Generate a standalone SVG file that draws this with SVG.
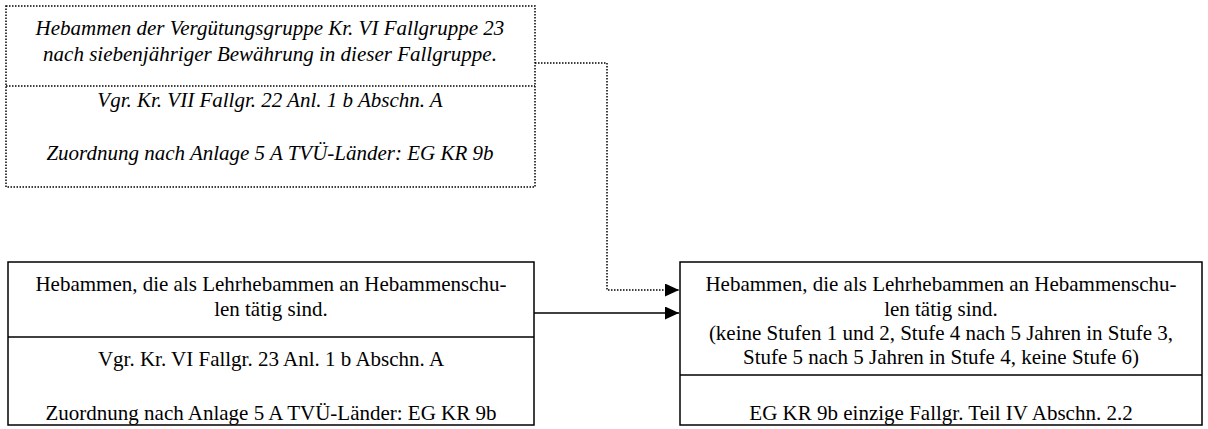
<svg xmlns="http://www.w3.org/2000/svg" width="1208" height="429" viewBox="0 0 1208 429">
<style>
text{font-family:'Liberation Serif','Times New Roman',serif;font-size:21px;fill:#000;text-anchor:middle}
.i{font-style:italic}
.solid{fill:#fff;stroke:#000;stroke-width:1.5}
.dot{fill:#fff;stroke:#000;stroke-width:1.5;stroke-dasharray:1.5 1.5}
.dl{fill:none;stroke:#000;stroke-width:1.5;stroke-dasharray:1.5 1.5}
.sl{fill:none;stroke:#000;stroke-width:1.5}
</style>
<defs>
<marker id="ah" viewBox="0 0 14 13" refX="14" refY="6.5" markerWidth="14" markerHeight="13" markerUnits="userSpaceOnUse" orient="auto">
<path d="M0,0 L14,6.5 L0,13 z" fill="#000"/>
</marker>
<clipPath id="cl"><rect x="8" y="262" width="526" height="163"/></clipPath>
<clipPath id="cr"><rect x="680" y="262" width="522" height="163"/></clipPath>
</defs>
<g id="connectors">
<polyline class="dl" points="535,63 607,63 607,290 679,290" marker-end="url(#ah)"/>
<line class="sl" x1="534" y1="313" x2="679" y2="313" marker-end="url(#ah)"/>
</g>
<g id="node-top">
<rect class="dot" x="6" y="6" width="529" height="181"/>
<line class="dl" x1="6" y1="86" x2="535" y2="86"/>
<text class="i" x="270" y="35">Hebammen der Vergütungsgruppe Kr. VI Fallgruppe 23</text>
<text class="i" x="270" y="61">nach siebenjähriger Bewährung in dieser Fallgruppe.</text>
<text class="i" x="270" y="107">Vgr. Kr. VII Fallgr. 22 Anl. 1 b Abschn. A</text>
<text class="i" x="270" y="160">Zuordnung nach Anlage 5 A TVÜ-Länder: EG KR 9b</text>
</g>
<g id="node-left">
<rect class="solid" x="8" y="262" width="526" height="163"/>
<line class="sl" x1="8" y1="337" x2="534" y2="337"/>
<text x="271" y="291">Hebammen, die als Lehrhebammen an Hebammenschu-</text>
<text x="271" y="316">len tätig sind.</text>
<text x="271" y="366">Vgr. Kr. VI Fallgr. 23 Anl. 1 b Abschn. A</text>
<text x="271" y="420" clip-path="url(#cl)">Zuordnung nach Anlage 5 A TVÜ-Länder: EG KR 9b</text>
</g>
<g id="node-right">
<rect class="solid" x="680" y="262" width="522" height="163"/>
<line class="sl" x1="680" y1="375" x2="1202" y2="375"/>
<text x="941" y="291">Hebammen, die als Lehrhebammen an Hebammenschu-</text>
<text x="941" y="316">len tätig sind.</text>
<text x="941" y="340">(keine Stufen 1 und 2, Stufe 4 nach 5 Jahren in Stufe 3,</text>
<text x="941" y="364">Stufe 5 nach 5 Jahren in Stufe 4, keine Stufe 6)</text>
<text x="941" y="420" clip-path="url(#cr)">EG KR 9b einzige Fallgr. Teil IV Abschn. 2.2</text>
</g>
</svg>
